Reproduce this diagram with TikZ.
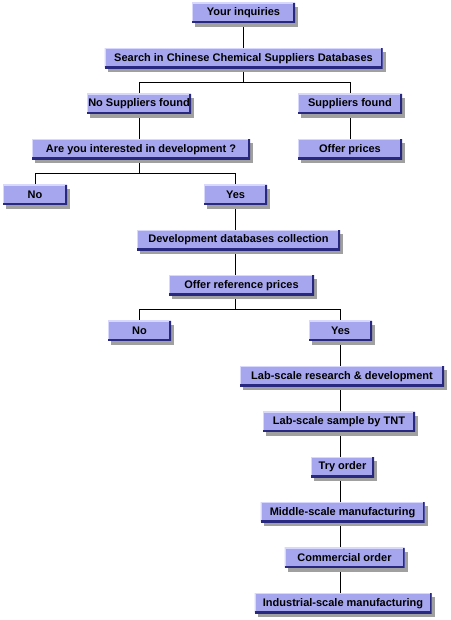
\documentclass[tikz,border=0pt]{standalone}
\usepackage{fontspec}
\setmainfont{Liberation Sans}
\usetikzlibrary{positioning,shadows,backgrounds}
\definecolor{boxfill}{RGB}{166,166,238}
\definecolor{boxdark}{RGB}{40,40,128}
\definecolor{boxlight}{RGB}{216,216,252}
\definecolor{boxshadow}{RGB}{160,160,160}
\tikzset{node distance=45.4pt,
  box/.style={rectangle, fill=boxfill, minimum width=#1, minimum height=20pt, inner sep=0pt,
    font=\fontsize{11}{13}\selectfont\bfseries,
    drop shadow={shadow xshift=3pt, shadow yshift=-4pt, fill=boxshadow, opacity=1},
    path picture={
      \draw[boxlight, line width=2pt] (path picture bounding box.south west) -- (path picture bounding box.north west) -- (path picture bounding box.north east);
      \draw[boxdark, line width=4pt] (path picture bounding box.south west) -- (path picture bounding box.south east) -- (path picture bounding box.north east);
    }},
  box/.default=63pt}

\begin{document}
\begin{tikzpicture}
	\useasboundingbox (0pt,0pt) rectangle (450pt,-620pt);

	\node[box=103pt] (inq) at (243.5pt,-13pt) {Your inquiries};
	\node[box=278pt] (search) [below of=inq] {Search in Chinese Chemical Suppliers Databases};
	\node[box=104pt] (nosup) [below of=search, xshift=-104.5pt] {No Suppliers found};
	\node[box=104pt] (sup) [below of=search, xshift=106.5pt] {Suppliers found};
	\node[box=218pt] (interest) [below of=nosup, xshift=2pt] {Are you interested in development ?};
	\node[box=104pt] (offer) [below of=sup] {Offer prices};
	\node[box=64pt] (no1) [below of=interest, xshift=-106pt] {No};
	\node[box] (yes1) [below of=interest, xshift=94.5pt] {Yes};
	\node[box=203pt] (devdb) [below of=yes1, xshift=3pt] {Development databases collection};
	\node[box=145pt] (refprice) [below of=devdb, xshift=3pt] {Offer reference prices};
	\node[box] (no2) [below of=refprice, xshift=-102pt] {No};
	\node[box] (yes2) [below of=refprice, xshift=99pt] {Yes};
	\node[box=204pt] (labrd) [below of=yes2, xshift=1.5pt] {Lab-scale research \& development};
	\node[box=152pt] (sample) [below of=labrd, xshift=-3pt] {Lab-scale sample by TNT};
	\node[box] (try) [below of=sample, xshift=3.5pt] {Try order};
	\node[box=164pt] (middle) [below of=try] {Middle-scale manufacturing};
	\node[box=120pt] (commercial) [below of=middle, xshift=2pt] {Commercial order};
	\node[box=177pt] (industrial) [below of=commercial, xshift=-1.5pt] {Industrial-scale manufacturing};

	\begin{scope}[on background layer]
		\path[draw]
			(inq) -- (search)
			(search.south) -- ++(0pt,-14pt) coordinate (fork1) -| (nosup.north)
			(fork1) -| (sup.north)
			(nosup.south) -- (nosup.south |- interest.north)
			(sup) -- (offer)
			(nosup.south |- interest.south) -- ++(0pt,-14pt) coordinate (fork2) -| (no1.north)
			(fork2) -| (yes1.north)
			(yes1.south) -- (yes1.south |- devdb.north)
			(yes1.south |- devdb.south) -- (yes1.south |- refprice.north)
			(yes1.south |- refprice.south) -- ++(0pt,-14pt) coordinate (fork3) -| (no2.north)
			(fork3) -| (yes2.north)
			(yes2.south) -- (yes2.south |- labrd.north)
			(yes2.south |- labrd.south) -- (yes2.south |- sample.north)
			(yes2.south |- sample.south) -- (yes2.south |- try.north)
			(yes2.south |- try.south) -- (yes2.south |- middle.north)
			(yes2.south |- middle.south) -- (yes2.south |- commercial.north)
			(yes2.south |- commercial.south) -- (yes2.south |- industrial.north);
	\end{scope}
\end{tikzpicture}
\end{document}
